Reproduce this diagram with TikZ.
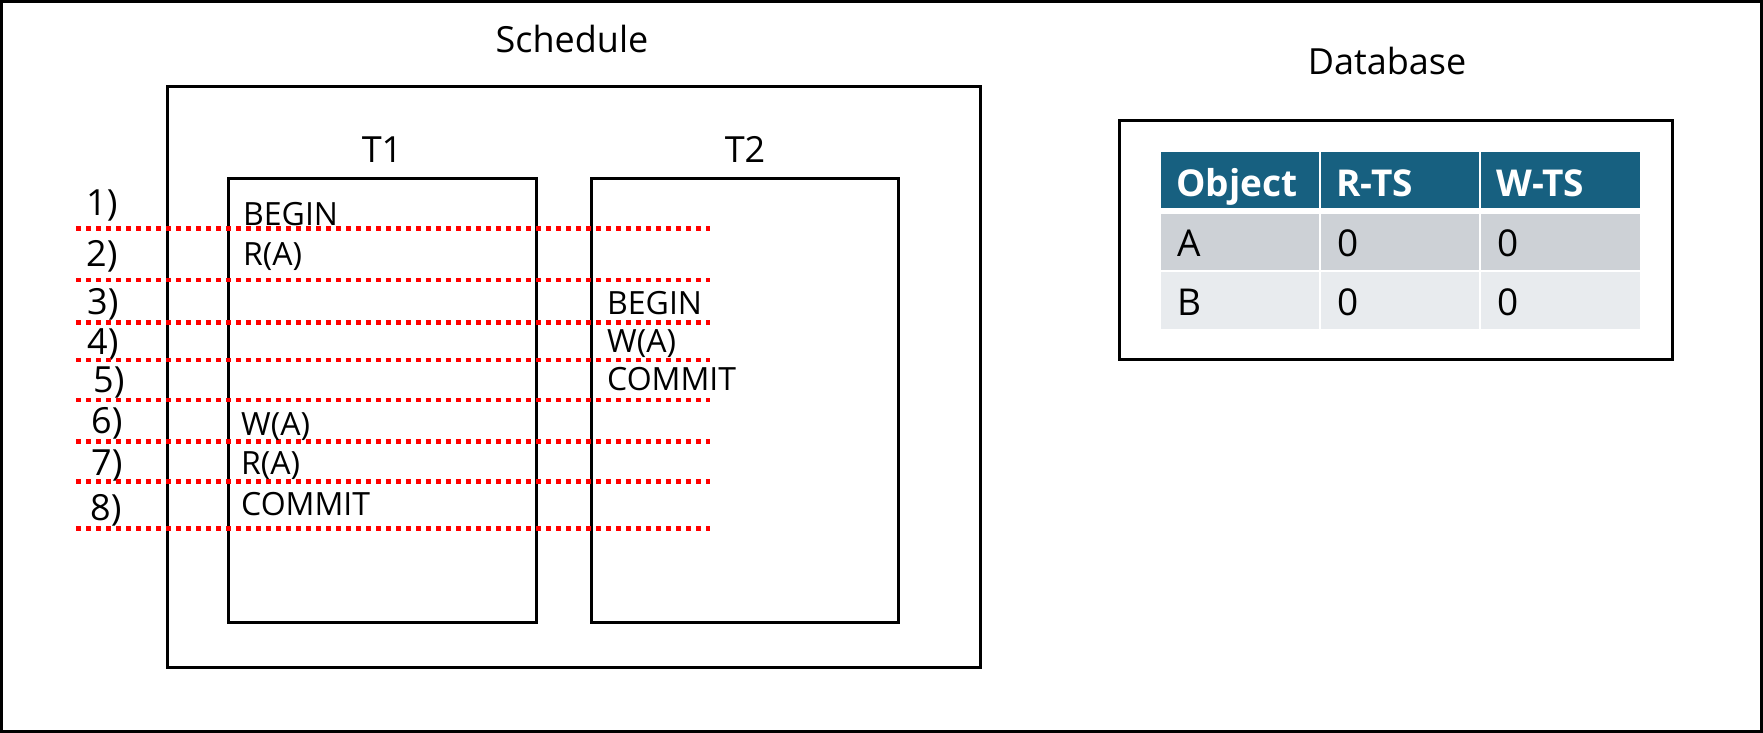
\documentclass[tikz,border=0pt]{standalone}
\usepackage{fontspec}
\setmainfont{Open Sans}
\definecolor{hdr}{RGB}{23,96,128}
\definecolor{rowa}{RGB}{205,209,214}
\definecolor{rowb}{RGB}{232,235,238}
\tikzset{
  boxline/.style={draw=black, line width=3pt},
  steprule/.style={draw=red, line width=4.5pt, dash pattern=on 5pt off 5pt},
  title/.style={inner sep=0pt, anchor=base, font=\fontsize{36}{43}\selectfont},
  steplbl/.style={inner sep=0pt, anchor=base west, font=\fontsize{36}{43}\selectfont},
  act/.style={inner sep=0pt, anchor=base west, font=\fontsize{32}{38}\selectfont},
  thead/.style={inner sep=0pt, anchor=base west, text=white, font=\fontsize{37}{44}\selectfont\bfseries},
  tcell/.style={inner sep=0pt, anchor=base west, font=\fontsize{37}{44}\selectfont},
}
\begin{document}
\begin{tikzpicture}[x=1pt,y=-1pt]
\useasboundingbox (0,0) rectangle (1763,733);
\fill[white] (0,0) rectangle (1763,733);
\draw[boxline] (1.5,1.5) rectangle (1761.5,731.5);

% Schedule
\node[title] (schedt) at (572,53) {Schedule};
\draw[boxline] (167.5,87) rectangle (980,667);
\node[title] (t1l) at (382,162) {T1};
\node[title] (t2l) at (745,162) {T2};
\draw[boxline] (228.5,178) rectangle (536,622);
\draw[boxline] (591.5,178) rectangle (898,622);

% step labels
\node[steplbl] (s1) at (86,215) {1)};
\node[steplbl] (s2) at (86,266) {2)};
\node[steplbl] (s3) at (87,314) {3)};
\node[steplbl] (s4) at (87,354) {4)};
\node[steplbl] (s5) at (93,392) {5)};
\node[steplbl] (s6) at (91,433) {6)};
\node[steplbl] (s7) at (91,475) {7)};
\node[steplbl] (s8) at (90,520) {8)};

% dotted rules
\foreach \i/\yy in {1/228.3,2/280,3/322.5,4/360,5/400,6/441.7,7/481.7,8/528.3}{
  \coordinate (la\i) at (76,\yy);
  \coordinate (lb\i) at (710,\yy);
}
\foreach \i in {1,...,8}{ \draw[steprule] (la\i) -- (lb\i); }

% actions
\node[act] (a1) at (243,225) {BEGIN};
\node[act] (a2) at (243,265) {R(A)};
\node[act] (a3) at (607,314) {BEGIN};
\node[act] (a4) at (607,352) {W(A)};
\node[act] (a5) at (607,390) {COMMIT};
\node[act] (a6) at (241,435) {W(A)};
\node[act] (a7) at (241,474) {R(A)};
\node[act] (a8) at (241,515) {COMMIT};

% Database
\node[title] (dbt) at (1387,75) {Database};
\draw[boxline] (1119,121) rectangle (1672,359);

\fill[hdr] (1161,152) rectangle (1319,207.5);
\fill[hdr] (1321,152) rectangle (1479,207.5);
\fill[hdr] (1481,152) rectangle (1640,207.5);
\fill[rowa] (1161,214) rectangle (1319,269.5);
\fill[rowa] (1321,214) rectangle (1479,269.5);
\fill[rowa] (1481,214) rectangle (1640,269.5);
\fill[rowb] (1161,271.5) rectangle (1319,329);
\fill[rowb] (1321,271.5) rectangle (1479,329);
\fill[rowb] (1481,271.5) rectangle (1640,329);

\node[thead] (h1) at (1176,196) {Object};
\node[thead] (h2) at (1336,196) {R-TS};
\node[thead] (h3) at (1496,196) {W-TS};
\node[tcell] (ca1) at (1177,256) {A};
\node[tcell] (ca2) at (1337,256) {0};
\node[tcell] (ca3) at (1497,256) {0};
\node[tcell] (cb1) at (1177,315) {B};
\node[tcell] (cb2) at (1337,315) {0};
\node[tcell] (cb3) at (1497,315) {0};
\end{tikzpicture}
\end{document}
